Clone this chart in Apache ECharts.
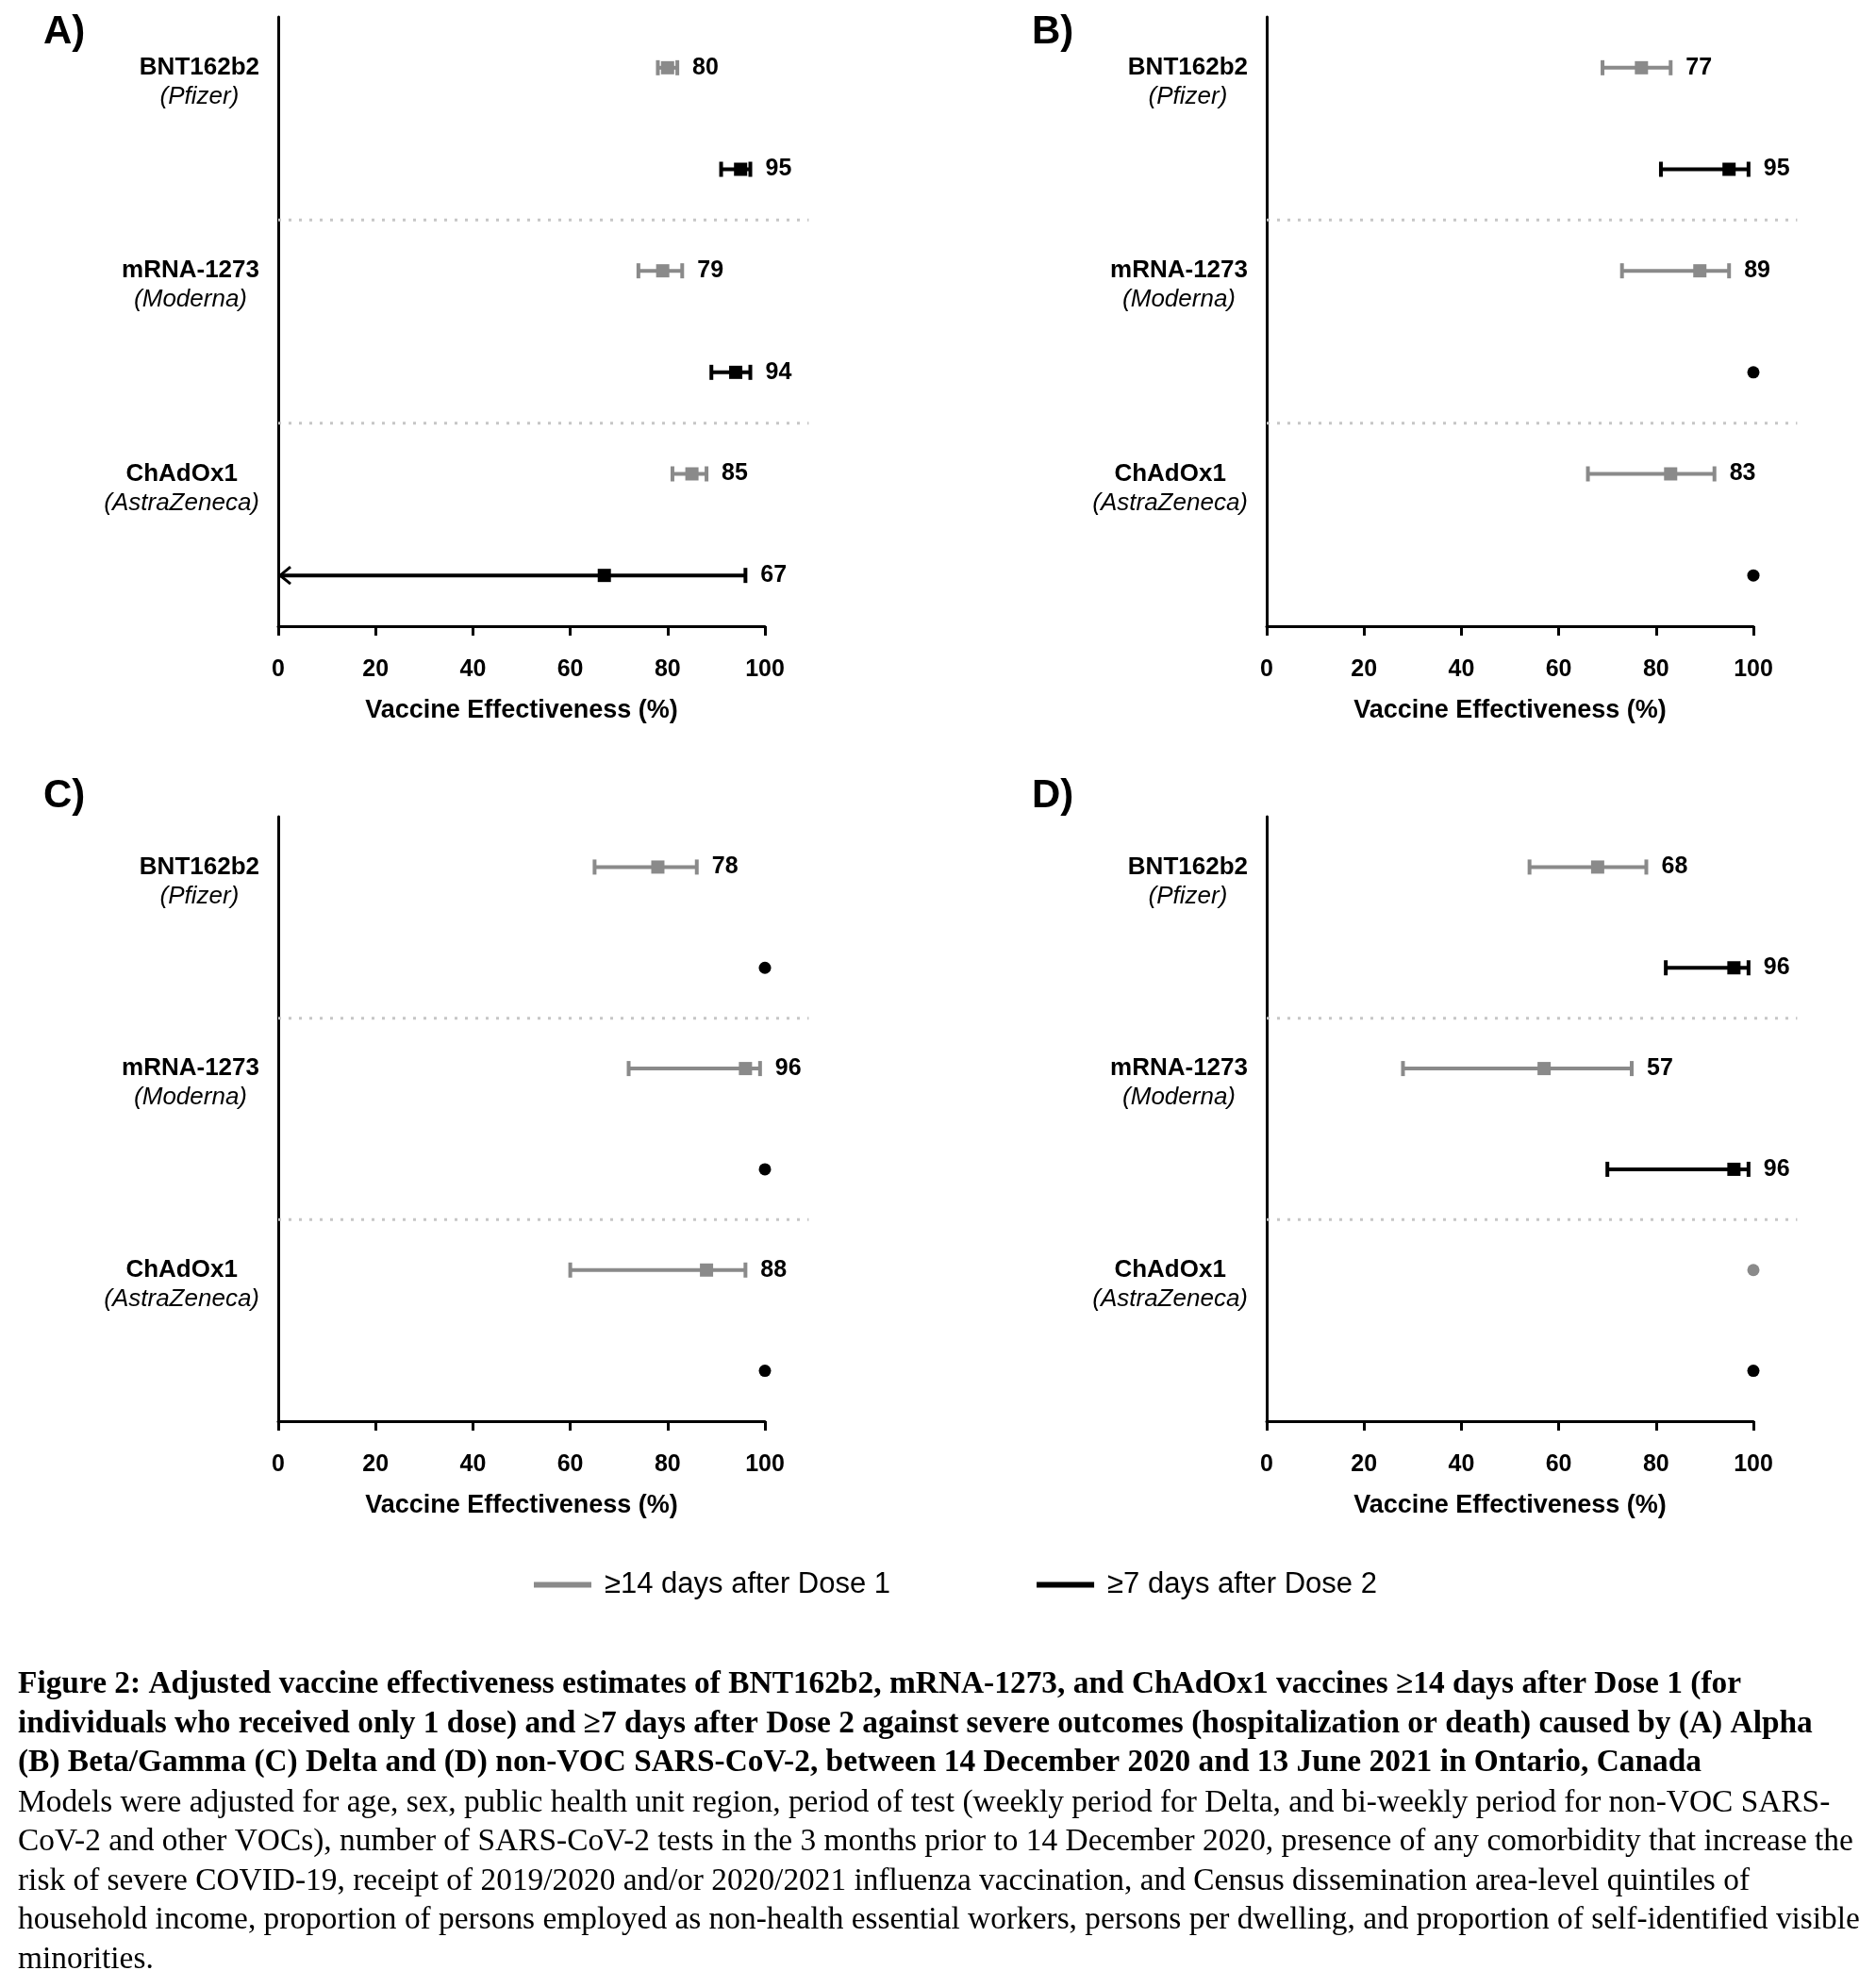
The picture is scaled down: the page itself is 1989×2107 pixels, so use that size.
<!DOCTYPE html>
<html><head><meta charset="utf-8">
<script src="https://cdn.jsdelivr.net/npm/echarts@6/dist/echarts.min.js"></script>
<style>html,body{margin:0;padding:0;background:#fff}#c{width:1989px;height:2107px}</style>
</head><body><div id="c"></div>
<script>
// ---------- data ----------
const vaccines = ['BNT162b2', 'mRNA-1273', 'ChAdOx1'];
const makers = ['(Pfizer)', '(Moderna)', '(AstraZeneca)'];
const panelLetters = ['A)', 'B)', 'C)', 'D)'];
const seriesNames = ['\u226514 days after Dose 1', '\u22657 days after Dose 2'];
const xTickValues = [0, 20, 40, 60, 80, 100];

// Panel A (Alpha)
const alphaDose1Est = [80, 79, 85];
const alphaDose1Lo = [78, 74, 81];
const alphaDose1Hi = [82, 83, 88];
const alphaDose2Est = [95, 94, 67];
const alphaDose2Lo = [91, 89, '<0'];
const alphaDose2Hi = [97, 97, 96];
// Panel B (Beta/Gamma)
const betaDose1Est = [77, 89, 83];
const betaDose1Lo = [69, 73, 66];
const betaDose1Hi = [83, 95, 92];
const betaDose2Est = [95, 100, 100];
const betaDose2Lo = [81, null, null];
const betaDose2Hi = [99, null, null];
// Panel C (Delta)
const deltaDose1Est = [78, 96, 88];
const deltaDose1Lo = [65, 72, 60];
const deltaDose1Hi = [86, 99, 96];
const deltaDose2Est = [100, 100, 100];
const deltaDose2Lo = [null, null, null];
const deltaDose2Hi = [null, null, null];
// Panel D (non-VOC)
const nonVocDose1Est = [68, 57, 100];
const nonVocDose1Lo = [54, 28, null];
const nonVocDose1Hi = [78, 75, null];
const nonVocDose2Est = [96, 96, 100];
const nonVocDose2Lo = [82, 70, null];
const nonVocDose2Hi = [99, 99, null];

const captionBold = [
  'Figure 2: Adjusted vaccine effectiveness estimates of BNT162b2, mRNA-1273, and ChAdOx1 vaccines \u226514 days after Dose 1 (for',
  'individuals who received only 1 dose) and \u22657 days after Dose 2 against severe outcomes (hospitalization or death) caused by (A) Alpha',
  '(B) Beta/Gamma (C) Delta and (D) non-VOC SARS-CoV-2, between 14 December 2020 and 13 June 2021 in Ontario, Canada'
];
const captionRegular = [
  'Models were adjusted for age, sex, public health unit region, period of test (weekly period for Delta, and bi-weekly period for non-VOC SARS-',
  'CoV-2 and other VOCs), number of SARS-CoV-2 tests in the 3 months prior to 14 December 2020, presence of any comorbidity that increase the',
  'risk of severe COVID-19, receipt of 2019/2020 and/or 2020/2021 influenza vaccination, and Census dissemination area-level quintiles of',
  'household income, proportion of persons employed as non-health essential workers, persons per dwelling, and proportion of self-identified visible',
  'minorities.'
];

// ---------- build ----------
const panels = [
  [[alphaDose1Est, alphaDose1Lo, alphaDose1Hi], [alphaDose2Est, alphaDose2Lo, alphaDose2Hi]],
  [[betaDose1Est, betaDose1Lo, betaDose1Hi], [betaDose2Est, betaDose2Lo, betaDose2Hi]],
  [[deltaDose1Est, deltaDose1Lo, deltaDose1Hi], [deltaDose2Est, deltaDose2Lo, deltaDose2Hi]],
  [[nonVocDose1Est, nonVocDose1Lo, nonVocDose1Hi], [nonVocDose2Est, nonVocDose2Lo, nonVocDose2Hi]]
];
const rowCats = [];
vaccines.forEach((v, i) => { rowCats.push(v + '|' + makers[i]); rowCats.push(v + ' dose 2'); });

const FONT = '"Liberation Sans", Arial, Helvetica, sans-serif';
const SERIF = '"Liberation Serif", "Times New Roman", serif';
const doseColors = ['#8a8a8a', '#000000'];
const dividerEnd = 109;
const dividerRows = [1, 3];

const gridPos = [
  {left: 295, top: 18, width: 516, height: 646},
  {left: 1343, top: 18, width: 516, height: 646},
  {left: 295, top: 866, width: 516, height: 641},
  {left: 1343, top: 866, width: 516, height: 641}
];
const letterPos = [[46, 13], [1094, 13], [46, 823], [1094, 823]];

function errRender(color) {
  return function (params, api) {
    const est = api.value(0), row = api.value(1), lo = api.value(2), hi = api.value(3), trunc = api.value(4);
    const c = api.coord([est, row]);
    const y = c[1];
    if (isNaN(hi)) {
      return {type: 'circle', shape: {cx: c[0], cy: y, r: 6.5}, style: {fill: color}};
    }
    const st = {stroke: color, lineWidth: 4};
    const xh = api.coord([hi, row])[0];
    const xl = trunc ? api.coord([0, row])[0] : api.coord([lo, row])[0];
    const ch = [
      {type: 'line', shape: {x1: xl, y1: y, x2: xh, y2: y}, style: st},
      {type: 'line', shape: {x1: xh, y1: y - 8, x2: xh, y2: y + 8}, style: st}
    ];
    if (trunc) {
      ch.push({type: 'polyline', shape: {points: [[xl + 13, y - 9], [xl + 2, y], [xl + 13, y + 9]]},
               style: {stroke: color, lineWidth: 3, fill: null}});
    } else {
      ch.push({type: 'line', shape: {x1: xl, y1: y - 8, x2: xl, y2: y + 8}, style: st});
    }
    ch.push({type: 'rect', shape: {x: c[0] - 7, y: y - 7, width: 14, height: 14}, style: {fill: color}});
    ch.push({type: 'text', style: {text: String(est), x: xh + 16, y: y, fill: '#000',
             fontSize: 25, fontWeight: 'bold', fontFamily: FONT, verticalAlign: 'middle', align: 'left'}});
    return {type: 'group', children: ch};
  };
}
function divRender(params, api) {
  const r = api.value(1);
  const a = api.coord([0, r]), b = api.coord([0, r + 1]);
  const y = (a[1] + b[1]) / 2;
  const x2 = api.coord([dividerEnd, r])[0];
  return {type: 'line', shape: {x1: a[0], y1: y, x2: x2, y2: y},
          style: {stroke: '#c6c6c6', lineWidth: 3, lineDash: [3, 8]}};
}

const grids = [], xAxes = [], yAxes = [], series = [], titles = [];
panels.forEach((panel, p) => {
  grids.push(Object.assign({containLabel: false}, gridPos[p]));
  xAxes.push({
    type: 'value', gridIndex: p, min: xTickValues[0], max: xTickValues[xTickValues.length - 1], interval: 20,
    axisLine: {show: true, lineStyle: {color: '#000', width: 3}},
    axisTick: {show: true, length: 10, lineStyle: {color: '#000', width: 3}},
    axisLabel: {color: '#000', fontSize: 25, fontWeight: 'bold', fontFamily: FONT, margin: 34},
    splitLine: {show: false},
    name: 'Vaccine Effectiveness (%)', nameLocation: 'middle', nameGap: 76,
    nameTextStyle: {color: '#000', fontSize: 27, fontWeight: 'bold', fontFamily: FONT}
  });
  yAxes.push({
    type: 'category', gridIndex: p, data: rowCats, inverse: true,
    axisLine: {show: true, lineStyle: {color: '#000', width: 3}},
    axisTick: {show: false},
    splitLine: {show: false},
    axisLabel: {
      interval: 0, margin: 20, padding: [31, 0, 0, 0], color: '#000',
      formatter: function (v) {
        const parts = v.split('|');
        if (parts.length < 2) return '';
        return '{b|' + parts[0] + '}\n{i|' + parts[1] + '}';
      },
      rich: {
        b: {fontSize: 26, fontWeight: 'bold', fontFamily: FONT, lineHeight: 31, align: 'center', color: '#000'},
        i: {fontSize: 26, fontStyle: 'italic', fontFamily: FONT, lineHeight: 31, align: 'center', color: '#000'}
      }
    }
  });
  series.push({
    type: 'custom', name: 'divider', xAxisIndex: p, yAxisIndex: p, silent: true, clip: false,
    renderItem: divRender, encode: {x: 0, y: 1},
    data: dividerRows.map(r => [0, r])
  });
  panel.forEach((dose, d) => {
    const [est, lo, hi] = dose;
    const data = est.map((e, i) => [e, 2 * i + d,
      (lo[i] === '<0' || lo[i] === null) ? null : lo[i],
      hi[i], lo[i] === '<0' ? 1 : 0]);
    series.push({
      type: 'custom', name: seriesNames[d], xAxisIndex: p, yAxisIndex: p, clip: false,
      itemStyle: {color: doseColors[d]},
      renderItem: errRender(doseColors[d]), encode: {x: 0, y: 1}, data: data
    });
  });
  titles.push({text: panelLetters[p], left: letterPos[p][0], top: letterPos[p][1], padding: 0,
               textStyle: {fontSize: 42, fontWeight: 'bold', fontFamily: FONT, color: '#000'}});
});
titles.push({text: captionBold.join('\n'), left: 19, top: 1766, padding: 0,
  textStyle: {fontSize: 33.4, fontWeight: 'bold', fontFamily: SERIF, color: '#000', lineHeight: 41.5}});
titles.push({text: captionRegular.join('\n'), left: 19, top: 1891, padding: 0,
  textStyle: {fontSize: 33.4, fontWeight: 'normal', fontFamily: SERIF, color: '#000', lineHeight: 41.5}});

const chart = echarts.init(document.getElementById('c'), null, {renderer: 'canvas'});
chart.setOption({
  backgroundColor: '#fff',
  animation: false,
  title: titles,
  grid: grids,
  xAxis: xAxes,
  yAxis: yAxes,
  legend: {
    data: seriesNames, left: 561, top: 1660, icon: 'rect', itemWidth: 61, itemHeight: 6, itemGap: 155,
    textStyle: {fontSize: 31, fontFamily: FONT, color: '#000', padding: [0, 0, 0, 9]}
  },
  series: series
});
</script></body></html>
